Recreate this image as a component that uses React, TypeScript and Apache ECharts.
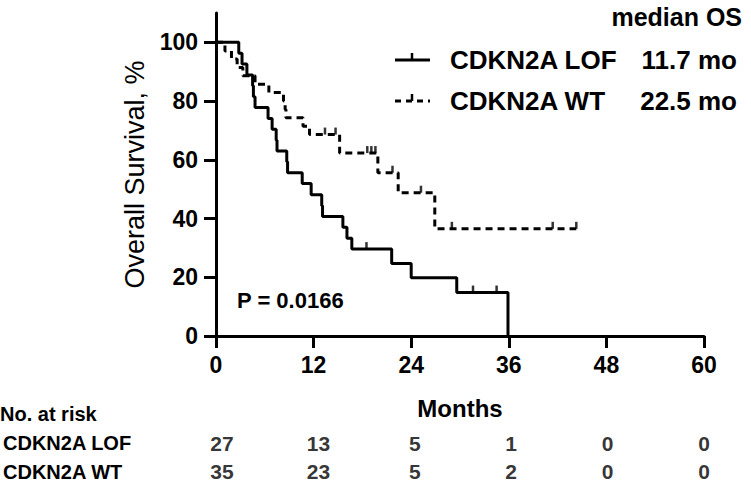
import React, { useEffect, useRef } from 'react';
import * as echarts from 'echarts';

// Kaplan-Meier step points (time in months, survival %)
const lofTime = [0, 2.8, 3.2, 3.8, 4.5, 4.6, 4.8, 6.4, 6.9, 7.4, 7.5, 8.7, 8.8, 10.6, 11.7, 13.0, 13.1, 15.6, 16.1, 16.7, 21.6, 24.0, 29.6, 35.9];
const lofSurv = [100, 96.3, 92.6, 88.9, 85.2, 81.5, 77.8, 74.1, 70.4, 66.7, 63.0, 59.3, 55.6, 51.9, 48.1, 44.4, 40.7, 37.0, 33.3, 29.6, 24.7, 19.8, 14.8, 0];
const lofCensor = [18.5, 31.6, 34.5];

const wtTime = [0, 1.1, 1.9, 2.6, 3.3, 4.8, 6.5, 8.3, 8.5, 8.6, 10.7, 11.5, 15.2, 19.9, 22.4, 26.9, 44.3];
const wtSurv = [100, 97.1, 94.3, 91.4, 88.6, 85.7, 82.9, 80.0, 77.1, 74.3, 71.4, 68.6, 62.3, 55.6, 48.8, 36.5, 36.5];
const wtCensor = [13.4, 14.7, 18.6, 19.1, 19.6, 21.7, 25.2, 29.0, 41.4, 44.3];

const xTicks = [0, 12, 24, 36, 48, 60];
const yTicks = [0, 20, 40, 60, 80, 100];

const riskGroups = ['CDKN2A LOF', 'CDKN2A WT'];
const riskLOF = [27, 13, 5, 1, 0, 0];
const riskWT = [35, 23, 5, 2, 0, 0];

const legendNames = ['CDKN2A LOF', 'CDKN2A WT'];
const legendMedians = ['11.7 mo', '22.5 mo'];

const FONT = '"Liberation Sans", Arial, Helvetica, sans-serif';

function survAt(times: number[], surv: number[], t: number) {
  let s = surv[0];
  for (let i = 0; i < times.length; i++) if (times[i] <= t) s = surv[i];
  return s;
}

export default function App() {
  const ref = useRef<HTMLDivElement>(null);
  useEffect(() => {
    if (!ref.current) return;
    const chart = echarts.init(ref.current, undefined, { renderer: 'svg' });
    const lofData = lofTime.map((t, i) => [t, lofSurv[i]]);
    const wtData = wtTime.map((t, i) => [t, wtSurv[i]]);
    const lofC = lofCensor.map((t) => [t, survAt(lofTime, lofSurv, t)]);
    const wtC = wtCensor.map((t) => [t, survAt(wtTime, wtSurv, t)]);
    const riskData: any[] = [];
    xTicks.forEach((t, i) => {
      riskData.push([t, 0, riskLOF[i]]);
      riskData.push([t, 1, riskWT[i]]);
    });
    const black = '#000';
    const censorStyle = {
      type: 'scatter',
      symbol: 'rect',
      symbolSize: [2.5, 7],
      symbolOffset: [0, -3.5],
      itemStyle: { color: black },
      z: 5,
    };
    const legendY = [60, 101];
    const graphic: any[] = [
      {
        type: 'text', x: 742, y: 17,
        style: { text: 'median OS', align: 'right', verticalAlign: 'middle', fill: black, font: `bold 25px ${FONT}` },
      },
      {
        type: 'text', x: 237, y: 300,
        style: { text: 'P = 0.0166', align: 'left', verticalAlign: 'middle', fill: black, font: `bold 22px ${FONT}` },
      },
      {
        type: 'text', x: 0, y: 414,
        style: { text: 'No. at risk', align: 'left', verticalAlign: 'middle', fill: black, font: `bold 20px ${FONT}` },
      },
    ];
    legendNames.forEach((name, i) => {
      const y = legendY[i];
      graphic.push({
        type: 'line',
        shape: { x1: 395, y1: y, x2: 430, y2: y },
        style: { stroke: black, lineWidth: 3, lineDash: i === 1 ? [6, 5] : null },
      });
      graphic.push({
        type: 'line',
        shape: { x1: 412, y1: y, x2: 412, y2: y - 7 },
        style: { stroke: black, lineWidth: 2.5 },
      });
      graphic.push({
        type: 'text', x: 450, y,
        style: { text: name, align: 'left', verticalAlign: 'middle', fill: black, font: `bold 26px ${FONT}` },
      });
      graphic.push({
        type: 'text', x: 737, y,
        style: { text: legendMedians[i], align: 'right', verticalAlign: 'middle', fill: black, font: `bold 26px ${FONT}` },
      });
    });

    chart.setOption({
      animation: false,
      backgroundColor: '#fff',
      grid: [
        { left: 216, right: 47, top: 13, bottom: 150 },
        { left: 216, right: 47, top: 429, height: 58 },
      ],
      xAxis: [
        {
          gridIndex: 0, type: 'value', min: 0, max: 60, interval: 12,
          axisLine: { lineStyle: { color: black, width: 3 } },
          axisTick: { length: 12, lineStyle: { color: black, width: 3 } },
          axisLabel: { color: black, fontSize: 23, fontWeight: 'bold', fontFamily: FONT, margin: 17 },
          splitLine: { show: false },
          name: 'Months', nameLocation: 'middle', nameGap: 60,
          nameTextStyle: { color: black, fontSize: 24, fontWeight: 'bold', fontFamily: FONT },
        },
        { gridIndex: 1, type: 'value', min: 0, max: 60, show: false },
      ],
      yAxis: [
        {
          gridIndex: 0, type: 'value', min: 0, max: 110, interval: 20,
          axisLine: { show: true, lineStyle: { color: black, width: 3 } },
          axisTick: { show: true, length: 12, lineStyle: { color: black, width: 3 }, customValues: yTicks },
          axisLabel: { color: black, fontSize: 23, fontWeight: 'bold', fontFamily: FONT, margin: 18, customValues: yTicks },
          splitLine: { show: false },
          name: 'Overall Survival, %', nameLocation: 'middle', nameGap: 68, nameRotate: 90,
          nameTextStyle: { color: black, fontSize: 27, fontFamily: FONT },
        },
        {
          gridIndex: 1, type: 'category', data: riskGroups, inverse: true,
          axisLine: { show: false }, axisTick: { show: false }, splitLine: { show: false },
          axisLabel: { align: 'left', margin: 219, color: black, fontSize: 20, fontWeight: 'bold', fontFamily: FONT },
        },
      ],
      graphic,
      series: [
        {
          name: 'CDKN2A LOF', type: 'line', step: 'end', data: lofData, symbol: 'none',
          lineStyle: { color: black, width: 3 }, z: 4,
        },
        {
          name: 'CDKN2A WT', type: 'line', step: 'end', data: wtData, symbol: 'none',
          lineStyle: { color: black, width: 3, type: [7, 5] }, z: 4,
        },
        { ...censorStyle, name: 'LOF censored', data: lofC },
        { ...censorStyle, name: 'WT censored', data: wtC },
        {
          name: 'At risk', type: 'scatter', xAxisIndex: 1, yAxisIndex: 1, data: riskData,
          symbolSize: 1, itemStyle: { color: 'transparent' },
          label: {
            show: true, position: 'inside', formatter: (p: any) => String(p.value[2]),
            color: black, fontSize: 21, fontWeight: 'bold', fontFamily: FONT,
          },
        },
      ],
    });
    return () => chart.dispose();
  }, []);
  return <div ref={ref} style={{ width: 751, height: 486, position: 'absolute', left: 0, top: 0 }} />;
}
